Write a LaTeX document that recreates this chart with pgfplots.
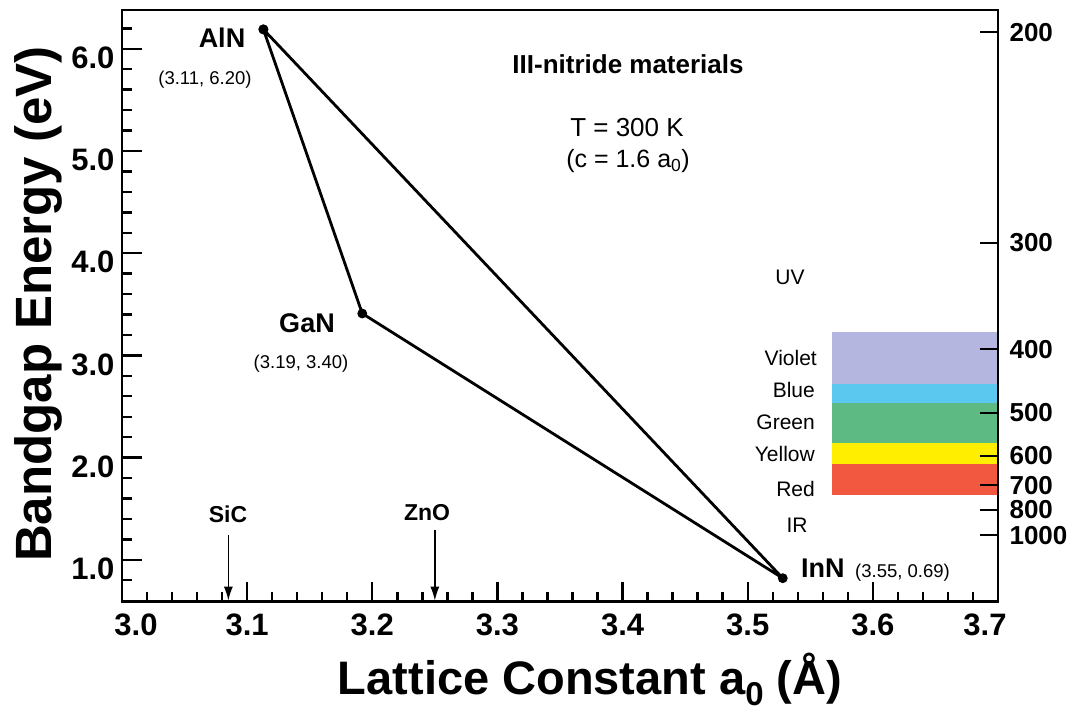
\documentclass[border=0pt]{standalone}
\usepackage{fontspec}
\setmainfont{Liberation Sans}
\usepackage{pgfplots}
\pgfplotsset{compat=1.18}
\usetikzlibrary{arrows.meta}
\definecolor{cviolet}{RGB}{180,182,224}
\definecolor{cblue}{RGB}{91,200,240}
\definecolor{cgreen}{RGB}{93,186,130}
\definecolor{cyellow}{RGB}{255,238,0}
\definecolor{cred}{RGB}{242,87,64}
\newcommand{\fs}[1]{\fontsize{#1}{#1}\selectfont}
\begin{document}
\begin{tikzpicture}
\useasboundingbox (0,0) rectangle (1076pt,711pt);
\begin{axis}[
  at={(122pt,109.3pt)}, anchor=south west,
  scale only axis, width=876pt, height=591.7pt,
  xmin=3.0, xmax=3.7, ymin=0.59, ymax=6.38,
  axis on top,
  xtick={3.0,3.1,3.2,3.3,3.4,3.5,3.6,3.7},
  xticklabels={\hspace*{28pt}3.0,3.1,3.2,3.3,3.4,3.5,3.6,3.7\hspace*{26pt}},
  ytick={1,2,3,4,5,6},
  yticklabels={1.0,2.0,3.0,4.0,5.0,6.0},
  minor xtick={3.02,3.04,...,3.69},
  minor ytick={0.8,1.0,...,6.3},
  xtick pos=left, ytick pos=left,
  tick align=inside,
  major tick length=20pt, minor tick length=10pt,
  tick style={line width=2.4pt, black},
  axis line style={line width=2.6pt},
  xticklabel style={font=\fs{31}\bfseries, yshift=-9pt},
  yticklabel style={font=\fs{31}\bfseries, yshift=-9pt, xshift=-4pt},
  clip=false,
]
\addplot[fill=cviolet, draw=none] coordinates {(3.5675,3.225) (3.7,3.225) (3.7,2.725) (3.5675,2.725)} -- cycle;
\addplot[fill=cblue, draw=none] coordinates {(3.5675,2.725) (3.7,2.725) (3.7,2.53) (3.5675,2.53)} -- cycle;
\addplot[fill=cgreen, draw=none] coordinates {(3.5675,2.53) (3.7,2.53) (3.7,2.147) (3.5675,2.147)} -- cycle;
\addplot[fill=cyellow, draw=none] coordinates {(3.5675,2.147) (3.7,2.147) (3.7,1.941) (3.5675,1.941)} -- cycle;
\addplot[fill=cred, draw=none] coordinates {(3.5675,1.941) (3.7,1.941) (3.7,1.637) (3.5675,1.637)} -- cycle;
\addplot[black, line width=2.8pt, line join=round, mark=*, mark size=4.5pt,
  mark options={fill=black, line width=0.8pt}]
  coordinates {(3.113,6.19) (3.192,3.41) (3.528,0.82) (3.113,6.19)};
\draw[-{Latex[length=14pt,width=9pt]}, line width=1.5pt] (axis cs:3.085,1.24) -- (axis cs:3.085,0.60);
\draw[-{Latex[length=14pt,width=9pt]}, line width=1.5pt] (axis cs:3.25,1.29) -- (axis cs:3.25,0.60);
\end{axis}
\begin{axis}[
  at={(122pt,109.3pt)}, anchor=south west,
  scale only axis, width=876pt, height=591.7pt,
  xmin=3.0, xmax=3.7, ymin=0.59, ymax=6.38,
  axis x line=none, axis y line*=right,
  ytick={6.16,4.10,3.06,2.44,2.02,1.73,1.49,1.24},
  yticklabels={200,300,400,500,600,700,800,1000},
  tick align=inside, major tick length=18pt,
  tick style={line width=2pt, black},
  axis line style={line width=2.6pt},
  yticklabel style={font=\fs{26}\bfseries, xshift=8pt},
]
\end{axis}
% axis labels
\node[anchor=base, font=\fs{47}\bfseries] at (590pt,16pt) {Lattice Constant a\raisebox{-11pt}{\fs{33}\bfseries 0} (Å)};
\node[anchor=base, rotate=90, font=\fs{51}\bfseries] at (51pt,407pt) {Bandgap Energy (eV)};
% annotations
\node[anchor=base, font=\fs{27}\bfseries] at (222pt,663pt) {AlN};
\node[anchor=base, font=\fs{18.5}] at (205pt,626pt) {(3.11, 6.20)};
\node[anchor=base, font=\fs{27}\bfseries] at (307pt,378pt) {GaN};
\node[anchor=base, font=\fs{18.5}] at (301pt,342pt) {(3.19, 3.40)};
\node[anchor=base west, inner sep=0pt, font=\fs{27}\bfseries] at (801pt,133pt) {InN};
\node[anchor=base west, inner sep=0pt, font=\fs{18.5}] at (855pt,133pt) {(3.55, 0.69)};
\node[anchor=base, font=\fs{26}\bfseries] at (628pt,637pt) {III-nitride materials};
\node[anchor=base, font=\fs{26}] at (627pt,574pt) {T = 300 K};
\node[anchor=base, font=\fs{25}] at (628pt,543pt) {(c = 1.6 a\textsubscript{0})};
\node[anchor=base, font=\fs{21}] at (790pt,426pt) {UV};
\node[anchor=base east, inner sep=0pt, font=\fs{21}] at (817pt,345pt) {Violet};
\node[anchor=base east, inner sep=0pt, font=\fs{21}] at (815pt,313pt) {Blue};
\node[anchor=base east, inner sep=0pt, font=\fs{21}] at (815pt,281pt) {Green};
\node[anchor=base east, inner sep=0pt, font=\fs{21}] at (815pt,249pt) {Yellow};
\node[anchor=base east, inner sep=0pt, font=\fs{21}] at (815pt,214pt) {Red};
\node[anchor=base, font=\fs{21}] at (797pt,178pt) {IR};
\node[anchor=base, font=\fs{23}\bfseries] at (228pt,188pt) {SiC};
\node[anchor=base, font=\fs{23}\bfseries] at (427pt,190pt) {ZnO};
\end{tikzpicture}
\end{document}
